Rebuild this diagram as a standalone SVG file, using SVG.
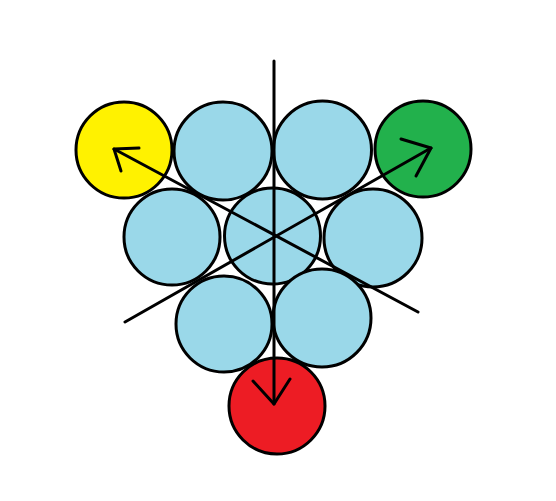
<svg xmlns="http://www.w3.org/2000/svg" width="556" height="501" viewBox="0 0 556 501">
<style>
.c{stroke:#000;stroke-width:3}
.b{fill:#9ad8e9}
.l{stroke:#000;stroke-width:3;fill:none;stroke-linecap:round;stroke-linejoin:round}
</style>
<rect width="556" height="501" fill="#fff"/>
<g id="yellow"><circle class="c" cx="124" cy="150" r="48" fill="#fff200"/></g>
<g id="green"><circle class="c" cx="423" cy="149" r="48" fill="#22b14c"/></g>
<g id="red"><circle class="c" cx="277" cy="406" r="48" fill="#ed1c24"/></g>
<g id="b1"><circle class="c b" cx="223" cy="151" r="49"/></g>
<g id="b2"><circle class="c b" cx="322.5" cy="150" r="49"/></g>
<g id="b3"><circle class="c b" cx="172" cy="237" r="48"/></g>
<g id="b4"><circle class="c b" cx="272.5" cy="236" r="48"/></g>
<g id="b5"><circle class="c b" cx="373" cy="238" r="49"/></g>
<g id="b6"><circle class="c b" cx="224" cy="324" r="48"/></g>
<g id="b7"><circle class="c b" cx="322" cy="318" r="49"/></g>
<g id="connectors">
<line class="l" x1="274" y1="61" x2="274" y2="404"/>
<polyline class="l" points="253,381 274,404 290,379"/>
<line class="l" x1="125" y1="322" x2="431" y2="148"/>
<polyline class="l" points="401,139 431,148 416,176"/>
<line class="l" x1="418" y1="312" x2="114" y2="149"/>
<polyline class="l" points="139,148 114,149 121,171"/>
</g>
</svg>
